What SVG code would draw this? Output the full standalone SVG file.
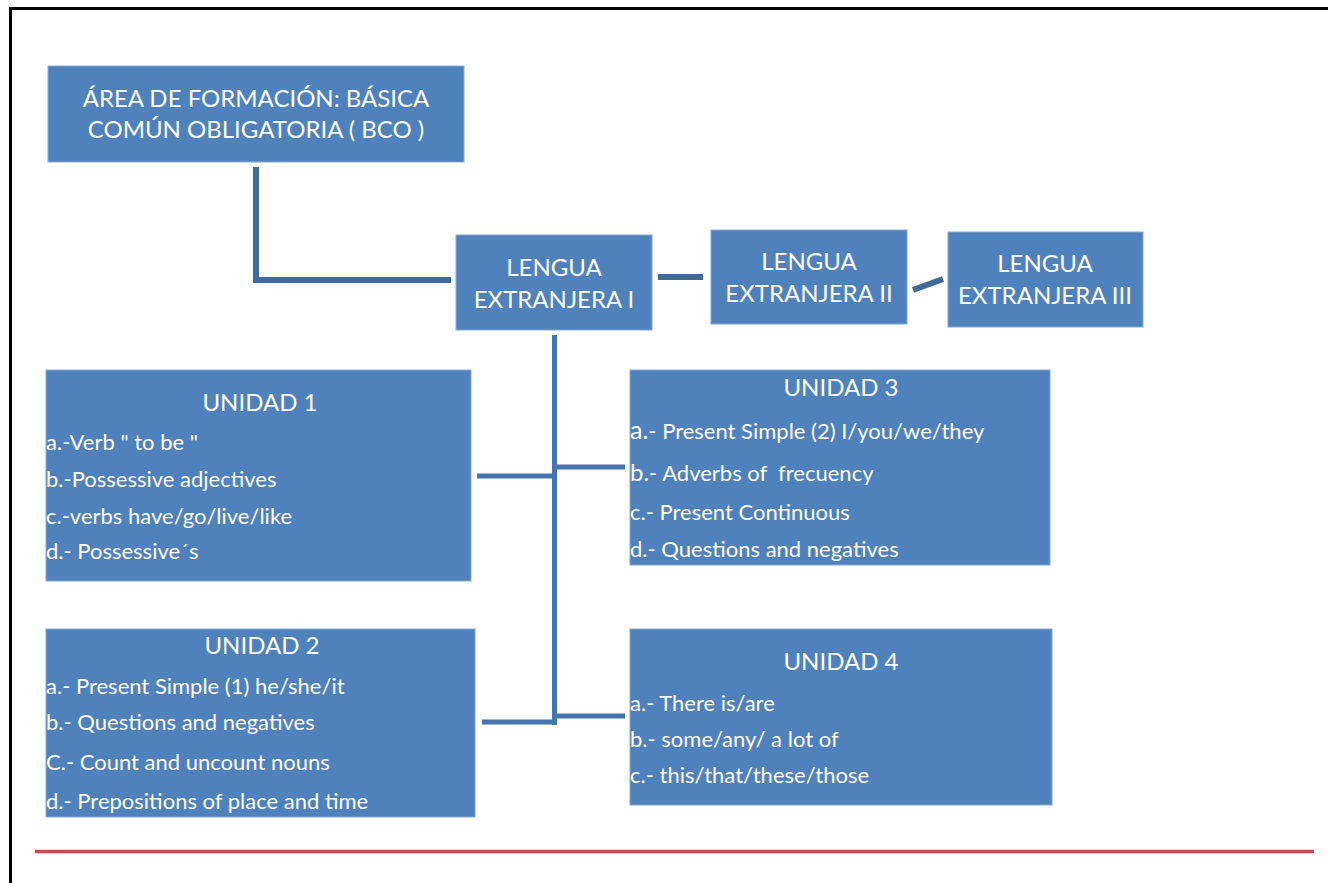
<svg xmlns="http://www.w3.org/2000/svg" width="1328" height="883" viewBox="0 0 1328 883">
<style>
.box{fill:#4F81BD;stroke:#86A9D6;stroke-width:1}
text{font-family:Lato,"Liberation Sans",sans-serif;fill:#FFFFFF}
.big{font-size:24px;text-anchor:middle}
.ttl{font-size:24px;text-anchor:middle}
.itm{font-size:22px}
.c1{stroke:#3F6A9C;stroke-width:6;fill:none}
.c2{stroke:#4674AE;stroke-width:5;fill:none}
</style>
<rect width="1328" height="883" fill="#FFFFFF"/>
<path d="M10.5 883 V8.5 H1328" stroke="#000" stroke-width="3" fill="none"/>
<line x1="35" y1="851.5" x2="1314" y2="851.5" stroke="#C0504D" stroke-width="3.5"/>
<g id="connectors">
<path class="c1" d="M256 167 V280 H451"/>
<line class="c1" x1="658" y1="277" x2="703" y2="277" stroke-width="5"/>
<line class="c1" x1="913" y1="290" x2="943" y2="279" stroke-width="5"/>
<line class="c2" x1="554.5" y1="335" x2="554.5" y2="725"/>
<line class="c2" x1="477" y1="476" x2="554" y2="476"/>
<line class="c2" x1="556" y1="467" x2="625" y2="467"/>
<line class="c2" x1="482" y1="722" x2="555" y2="722"/>
<line class="c2" x1="556" y1="716" x2="625" y2="716"/>
</g>
<g id="area">
<rect class="box" x="48" y="66" width="416" height="96"/>
<text class="big" x="256" y="107">ÁREA DE FORMACIÓN: BÁSICA</text>
<text class="big" x="256" y="138">COMÚN OBLIGATORIA ( BCO )</text>
</g>
<g id="le1">
<rect class="box" x="456" y="235" width="196" height="95"/>
<text class="big" x="554" y="276">LENGUA</text>
<text class="big" x="554" y="308">EXTRANJERA I</text>
</g>
<g id="le2">
<rect class="box" x="711" y="230" width="196" height="94"/>
<text class="big" x="809" y="270">LENGUA</text>
<text class="big" x="809" y="302">EXTRANJERA II</text>
</g>
<g id="le3">
<rect class="box" x="948" y="232" width="195" height="95"/>
<text class="big" x="1045" y="272">LENGUA</text>
<text class="big" x="1045" y="304">EXTRANJERA III</text>
</g>
<g id="unidad1">
<rect class="box" x="46" y="370" width="425" height="211"/>
<text class="ttl" x="260" y="411">UNIDAD 1</text>
<text class="itm" x="46" y="450">a.-Verb " to be "</text>
<text class="itm" x="46" y="487">b.-Possessive adjectives</text>
<text class="itm" x="46" y="524">c.-verbs have/go/live/like</text>
<text class="itm" x="46" y="559">d.- Possessive´s</text>
</g>
<g id="unidad3">
<rect class="box" x="630" y="370" width="420" height="195"/>
<text class="ttl" x="841" y="396">UNIDAD 3</text>
<text class="itm" x="630" y="439"><tspan font-size="25px">a.</tspan>- Present Simple (2) I/you/we/they</text>
<text class="itm" x="630" y="481" xml:space="preserve"><tspan font-size="24px">b.</tspan>- Adverbs of  frecuency</text>
<text class="itm" x="630" y="520">c.- Present Continuous</text>
<text class="itm" x="630" y="557">d.- Questions and negatives</text>
</g>
<g id="unidad2">
<rect class="box" x="46" y="629" width="429" height="188"/>
<text class="ttl" x="262" y="654">UNIDAD 2</text>
<text class="itm" x="46" y="694">a.- Present Simple (1) he/she/it</text>
<text class="itm" x="46" y="730">b.- Questions and negatives</text>
<text class="itm" x="46" y="770">C.- Count and uncount nouns</text>
<text class="itm" x="46" y="809">d.- Prepositions of place and time</text>
</g>
<g id="unidad4">
<rect class="box" x="630" y="629" width="422" height="176"/>
<text class="ttl" x="841" y="670">UNIDAD 4</text>
<text class="itm" x="630" y="711">a.- There is/are</text>
<text class="itm" x="630" y="747">b.- some/any/ a lot of</text>
<text class="itm" x="630" y="783">c.- this/that/these/those</text>
</g>
</svg>
